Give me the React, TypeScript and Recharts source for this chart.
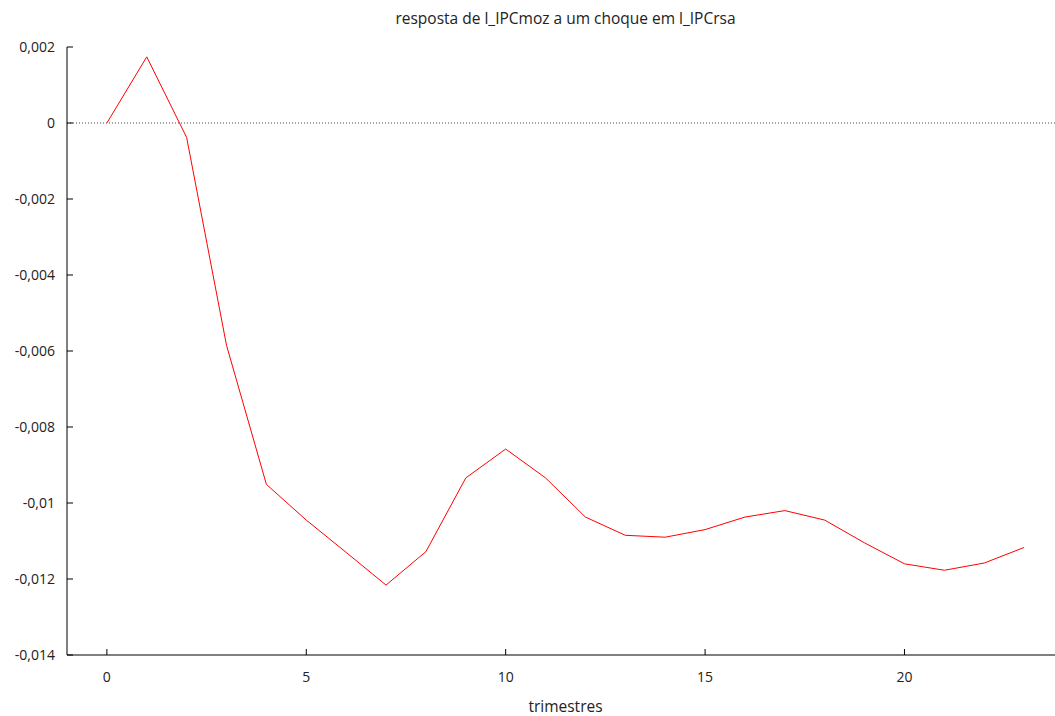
import React from 'react';
import { LineChart, Line, XAxis, YAxis, ReferenceLine, Label } from 'recharts';

const periods = [0, 1, 2, 3, 4, 5, 6, 7, 8, 9, 10, 11, 12, 13, 14, 15, 16, 17, 18, 19, 20, 21, 22, 23];
const response = [
  0, 0.00174, -0.00038, -0.00585, -0.00951, -0.01045, -0.0113, -0.01216, -0.01128, -0.00934,
  -0.00858, -0.00934, -0.01037, -0.01085, -0.0109, -0.0107, -0.01037, -0.0102, -0.01045,
  -0.01105, -0.0116, -0.01177, -0.01158, -0.01117,
];
const xTicks = [0, 5, 10, 15, 20];
const yTicks = [0.002, 0, -0.002, -0.004, -0.006, -0.008, -0.01, -0.012, -0.014];

const data = periods.map((t, i) => ({ t, v: response[i] }));

const FONT = '"Open Sans", sans-serif';
const fmt = (v: number) => String(v).replace('.', ',');

const YTick = (props: any) => {
  const { x, y, payload } = props;
  return (
    <g>
      <line x1={x + 12} y1={y} x2={x + 18} y2={y} stroke="#000" />
      <text x={x} y={y} dy="0.35em" textAnchor="end" fontSize={14} fontFamily={FONT} fill="#222">
        {fmt(payload.value)}
      </text>
    </g>
  );
};

const BottomTick = (props: any) => {
  const { x, y, payload } = props;
  return (
    <g>
      <line x1={x} y1={y - 22} x2={x} y2={y - 28} stroke="#000" />
      <text x={x} y={y} dy="0.35em" textAnchor="middle" fontSize={14} fontFamily={FONT} fill="#222">
        {payload.value}
      </text>
    </g>
  );
};

const TopTick = (props: any) => {
  const { x, y } = props;
  return <line x1={x} y1={y} x2={x} y2={y + 6} stroke="#000" />;
};

export default function App() {
  return (
    <div style={{ position: 'absolute', left: 0, top: 0, width: 1055, height: 716, overflow: 'hidden', background: '#fff' }}>
      <div
        style={{
          position: 'absolute', left: 0, top: 7, width: 1131, textAlign: 'center',
          fontFamily: FONT, fontSize: 15.5, color: '#222',
        }}
      >
        resposta de l_IPCmoz a um choque em l_IPCrsa
      </div>
      <LineChart width={1075} height={716} data={data} margin={{ top: 47, right: 11, bottom: 0, left: 7 }}>
        <XAxis
          xAxisId="top"
          orientation="top"
          dataKey="t"
          type="number"
          domain={[-1, 24]}
          ticks={xTicks}
          height={0}
          tickSize={0}
          tickMargin={0}
          tickLine={false}
          tick={<TopTick />}
          axisLine={{ stroke: '#000' }}
        />
        <XAxis
          xAxisId="b"
          dataKey="t"
          type="number"
          domain={[-1, 24]}
          ticks={xTicks}
          height={61}
          tickSize={0}
          tickMargin={22}
          tickLine={false}
          tick={<BottomTick />}
          axisLine={{ stroke: '#000' }}
        >
          <Label value="trimestres" position="insideBottom" offset={4} fontSize={15.5} fontFamily={FONT} fill="#222" />
        </XAxis>
        <YAxis
          type="number"
          domain={[-0.014, 0.002]}
          ticks={yTicks}
          width={60}
          tickSize={0}
          tickMargin={12}
          tickLine={false}
          tick={<YTick />}
          axisLine={{ stroke: '#000' }}
          allowDataOverflow
        />
        <ReferenceLine xAxisId="b" y={0} stroke="#444" strokeDasharray="1 2" />
        <Line
          xAxisId="b"
          type="linear"
          dataKey="v"
          stroke="#ff0000"
          strokeWidth={1}
          dot={false}
          isAnimationActive={false}
        />
      </LineChart>
    </div>
  );
}
